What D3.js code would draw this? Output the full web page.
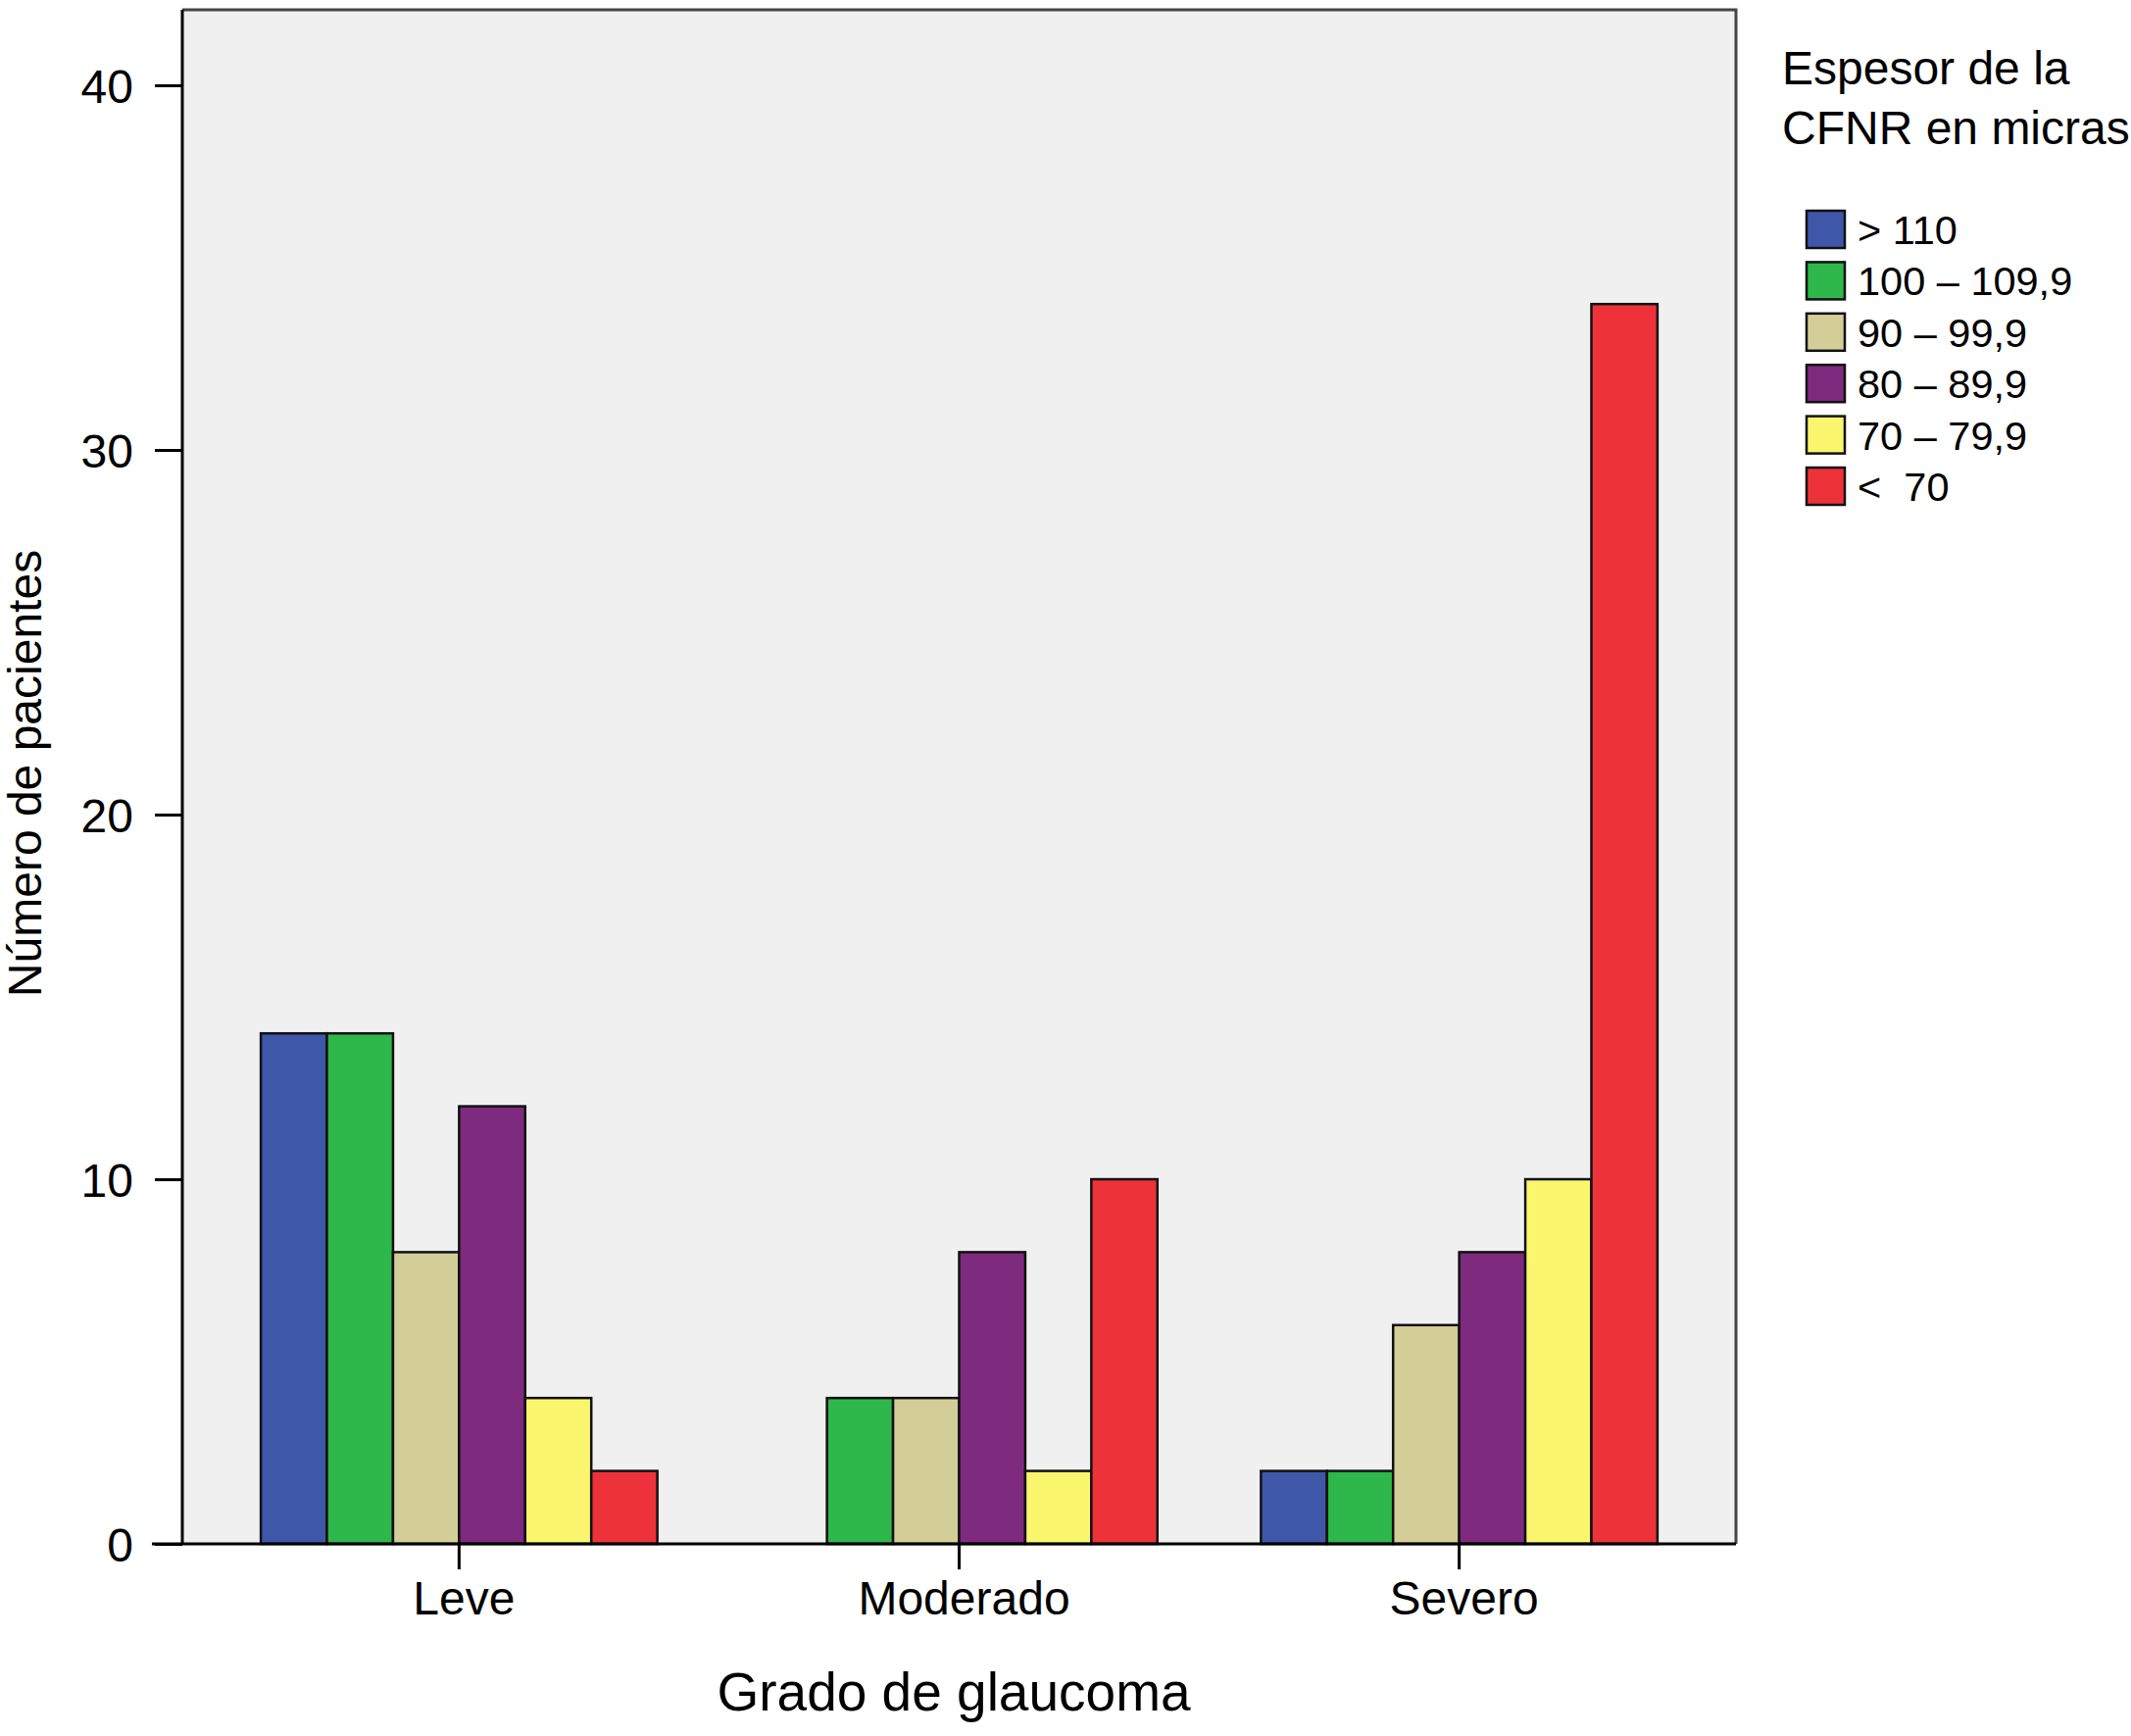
<!DOCTYPE html>
<meta charset="utf-8">
<style>
	body { margin: 0; background: #fff; }
	* { font-family: "Liberation Sans", Arial, Helvetica, sans-serif; }
	.axis .domain { display: none; }
	.axis .tick line { stroke: #000; stroke-width: 3px; }
	.axis .tick text { fill: #000; font-size: 48px; }
	.bar { stroke: #111; stroke-width: 2.5px; }
</style>
<body>
	<div id="chart"></div>
	<script src="https://cdn.jsdelivr.net/npm/d3@7/dist/d3.min.js"></script>
	<script>
		// chart data
		var categories = ["Leve", "Moderado", "Severo"];
		var seriesNames = ["> 110", "100 \u2013 109,9", "90 \u2013 99,9", "80 \u2013 89,9", "70 \u2013 79,9", "<\u00a0 70"];
		var over110 = [14, 0, 2];
		var from100 = [14, 4, 2];
		var from90 = [8, 4, 6];
		var from80 = [12, 8, 8];
		var from70 = [4, 2, 10];
		var under70 = [2, 10, 34];
		var yTicks = [0, 10, 20, 30, 40];

		var series = [over110, from100, from90, from80, from70, under70];
		var colors = ["#3f57a9", "#2eb74a", "#d3ce97", "#7e2a7e", "#f9f66e", "#ee3239"];

		var width = 2174, height = 1771;
		var plot = {left: 186, right: 1771, top: 10, bottom: 1575};

		var svg = d3.select("#chart").append("svg")
				.attr("width", width)
				.attr("height", height);

		var x = d3.scaleBand()
				.domain(categories)
				.range([plot.left, plot.right])
				.paddingInner(0.207)
				.paddingOuter(0.157);

		var xSub = d3.scaleBand()
				.domain(d3.range(series.length))
				.range([0, x.bandwidth()]);

		var y = d3.scaleLinear()
				.domain([0, 42.07])
				.range([plot.bottom, plot.top]);

		// plot background
		svg.append("rect")
				.attr("x", plot.left)
				.attr("y", plot.top)
				.attr("width", plot.right - plot.left)
				.attr("height", plot.bottom - plot.top)
				.attr("fill", "#f0f0f0");

		// bars
		var rows = [];
		categories.forEach(function (c, ci) {
			series.forEach(function (s, si) {
				rows.push({cat: c, idx: si, value: s[ci]});
			});
		});

		svg.append("g").selectAll("rect")
				.data(rows.filter(function (d) { return d.value > 0; }))
				.enter().append("rect")
				.attr("class", "bar")
				.attr("x", function (d) { return x(d.cat) + xSub(d.idx); })
				.attr("y", function (d) { return y(d.value); })
				.attr("width", xSub.bandwidth())
				.attr("height", function (d) { return y(0) - y(d.value); })
				.attr("fill", function (d) { return colors[d.idx]; });

		// frame (top + right)
		svg.append("path")
				.attr("d", "M" + plot.left + "," + plot.top + "H" + plot.right + "V" + plot.bottom)
				.attr("fill", "none")
				.attr("stroke", "#454545")
				.attr("stroke-width", 3);

		// y axis
		svg.append("g")
				.attr("class", "axis")
				.attr("transform", "translate(" + plot.left + ",0)")
				.call(d3.axisLeft(y).tickValues(yTicks).tickSize(28).tickPadding(22))
				.selectAll(".tick text").attr("dy", "0.36em");

		svg.append("line")
				.attr("x1", plot.left).attr("x2", plot.left)
				.attr("y1", plot.top).attr("y2", plot.bottom)
				.attr("stroke", "#000").attr("stroke-width", 3);

		// x axis
		var xAxis = svg.append("g")
				.attr("class", "axis")
				.attr("transform", "translate(0," + plot.bottom + ")")
				.call(d3.axisBottom(x).tickSize(26).tickPadding(12));
		xAxis.selectAll(".tick text").attr("dy", "0.71em").attr("dx", 5);

		svg.append("line")
				.attr("x1", 155).attr("x2", plot.right)
				.attr("y1", plot.bottom).attr("y2", plot.bottom)
				.attr("stroke", "#000").attr("stroke-width", 3);

		// axis titles
		svg.append("text")
				.attr("transform", "translate(42," + 789 + ") rotate(-90)")
				.attr("text-anchor", "middle")
				.attr("font-size", 48)
				.text("Número de pacientes");

		svg.append("text")
				.attr("x", 973)
				.attr("y", 1745)
				.attr("text-anchor", "middle")
				.attr("font-size", 55)
				.text("Grado de glaucoma");

		// legend
		var legend = svg.append("g").attr("transform", "translate(1818,0)");
		legend.append("text")
				.attr("y", 86)
				.attr("font-size", 48)
				.text("Espesor de la");
		legend.append("text")
				.attr("y", 147)
				.attr("font-size", 48)
				.text("CFNR en micras");

		var item = legend.selectAll(".item")
				.data(seriesNames)
				.enter().append("g")
				.attr("class", "item")
				.attr("transform", function (d, i) { return "translate(0," + (234 + i * 52.4) + ")"; });
		item.append("rect")
				.attr("x", 25)
				.attr("y", -19)
				.attr("width", 39)
				.attr("height", 38)
				.attr("fill", function (d, i) { return colors[i]; })
				.attr("stroke", "#111")
				.attr("stroke-width", 2.5);
		item.append("text")
				.attr("x", 77)
				.attr("dy", "0.36em")
				.attr("font-size", 41.5)
				.text(function (d) { return d; });
	</script>
</body>
